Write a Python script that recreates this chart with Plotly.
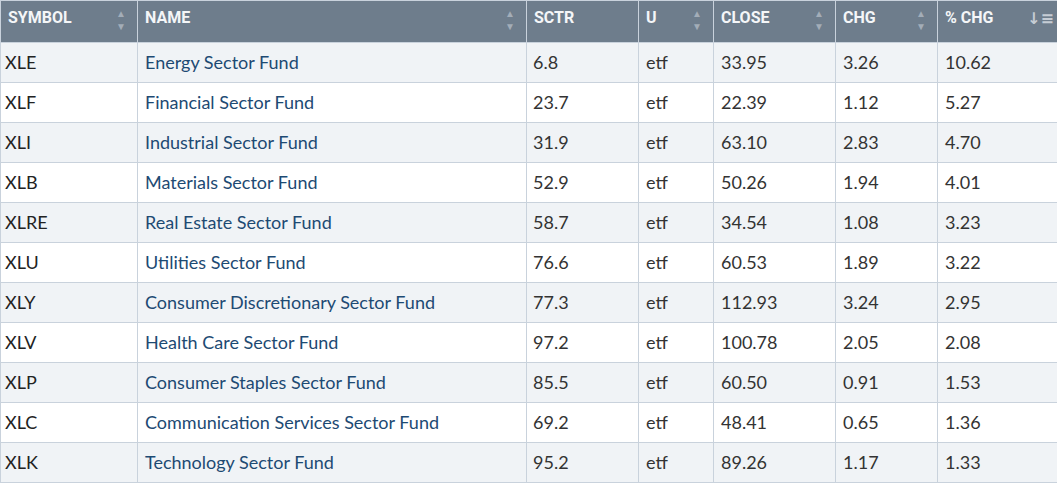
import plotly.graph_objects as go

symbols = ["XLE", "XLF", "XLI", "XLB", "XLRE", "XLU", "XLY", "XLV", "XLP", "XLC", "XLK"]
names = ["Energy Sector Fund", "Financial Sector Fund", "Industrial Sector Fund",
         "Materials Sector Fund", "Real Estate Sector Fund", "Utilities Sector Fund",
         "Consumer Discretionary Sector Fund", "Health Care Sector Fund",
         "Consumer Staples Sector Fund", "Communication Services Sector Fund",
         "Technology Sector Fund"]
sctr = ["6.8", "23.7", "31.9", "52.9", "58.7", "76.6", "77.3", "97.2", "85.5", "69.2", "95.2"]
units = ["etf"] * 11
close = ["33.95", "22.39", "63.10", "50.26", "34.54", "60.53", "112.93", "100.78", "60.50", "48.41", "89.26"]
chg = ["3.26", "1.12", "2.83", "1.94", "1.08", "1.89", "3.24", "2.05", "0.91", "0.65", "1.17"]
pct_chg = ["10.62", "5.27", "4.70", "4.01", "3.23", "3.22", "2.95", "2.08", "1.53", "1.36", "1.33"]
headers = ["SYMBOL", "NAME", "SCTR", "U", "CLOSE", "CHG", "% CHG"]

W, H = 1057, 484
col_px = [137, 389, 112, 75, 122, 102, 120]
header_h, row_h = 42, 40
n = len(symbols)
columns = [symbols, names, sctr, units, close, chg, pct_chg]

row_fill = ["#f0f3f6" if i % 2 == 0 else "#ffffff" for i in range(n)]
text_colors = ["#222222", "#1d4a73", "#333333", "#333333", "#333333", "#333333", "#333333"]

fig = go.Figure()
# grid, fills and header
fig.add_trace(go.Table(
    columnwidth=col_px,
    header=dict(
        values=[f"<b>{h}</b>" for h in headers],
        fill_color="#6e7d8c",
        line=dict(color="#c9d2dc", width=1),
        font=dict(family="Roboto", size=16, color="#f4f6f8"),
        align="left",
        height=header_h,
    ),
    cells=dict(
        values=[[""] * n for _ in columns],
        fill_color=[row_fill] * 7,
        line=dict(color="#c9d2dc", width=1),
        font=dict(family="Lato", size=18),
        align="left",
        height=row_h,
    ),
    domain=dict(x=[0, 1], y=[0, 1]),
))

edges = [0]
for w in col_px:
    edges.append(edges[-1] + w)
row_centers = [header_h + row_h * i + row_h / 2 for i in range(n)]
pads = [3, 6, 5, 6, 6, 6, 6]

annotations = []
# cell texts, vertically centred in each row
for ci, vals in enumerate(columns):
    for ri, v in enumerate(vals):
        annotations.append(dict(
            x=edges[ci] + pads[ci], y=row_centers[ri], xref="x", yref="y",
            xanchor="left", yanchor="middle", text=v, showarrow=False,
            font=dict(family="Lato", size=18, color=text_colors[ci])))

# sort icons in header
for i in [0, 1, 3, 4, 5]:
    xr = edges[i + 1] - 16
    annotations.append(dict(x=xr, y=header_h / 2 - 2, xref="x", yref="y",
                            xanchor="center", yanchor="middle",
                            text="▲<br>▼", showarrow=False,
                            font=dict(size=10, color="#a3adb8")))
annotations.append(dict(x=1040, y=header_h / 2 - 3, xref="x", yref="y",
                        xanchor="center", yanchor="middle",
                        text="<b>↓≡</b>", showarrow=False,
                        font=dict(size=16, color="#c5ccd4", family="DejaVu Sans")))

fig.update_layout(
    width=W, height=H, margin=dict(l=0, r=0, t=0, b=0),
    paper_bgcolor="#ffffff", plot_bgcolor="rgba(0,0,0,0)",
    annotations=annotations,
    xaxis=dict(range=[0, W], visible=False, fixedrange=True),
    yaxis=dict(range=[H, 0], visible=False, fixedrange=True),
)
fig.write_html("out.html", post_script="document.body.style.margin='0px';",
               config={"displayModeBar": False})
